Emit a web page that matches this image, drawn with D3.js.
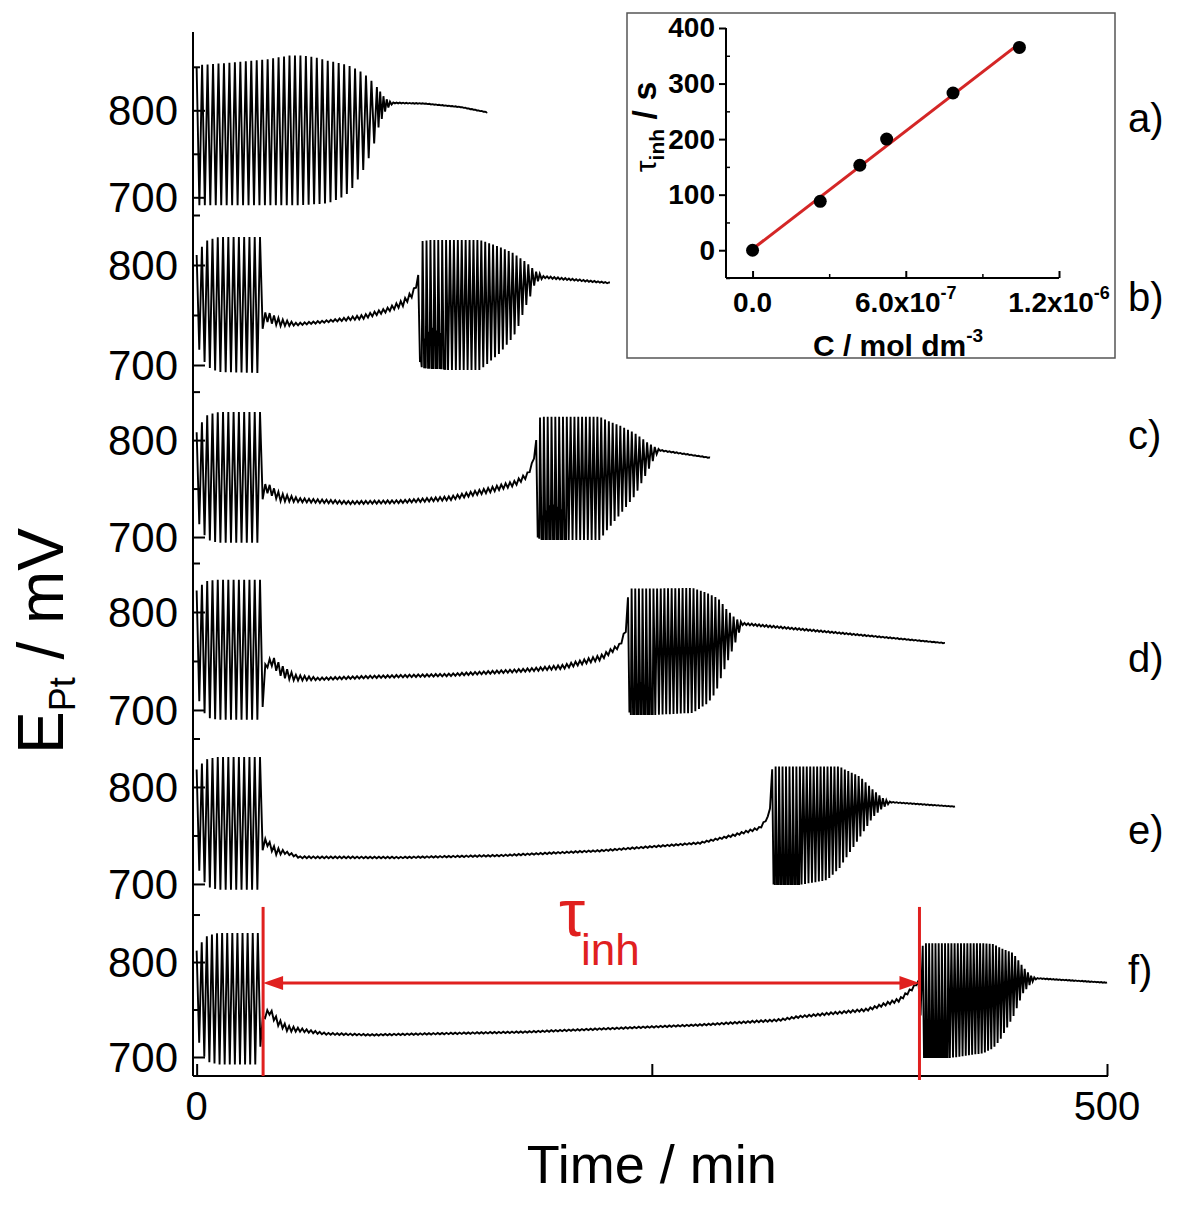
<!doctype html>
<html>
<head>
<meta charset="utf-8">
<title>E_Pt oscillations</title>
<script src="https://d3js.org/d3.v7.min.js"></script>
<style>
  body { margin: 0; background: #fff; }
  svg { display: block; font-family: "Liberation Sans", Arial, sans-serif; }
</style>
</head>
<body>
<svg id="chart" width="1186" height="1209"></svg>
<script>

    /* --- values --- */

    var panels = ["a)", "b)", "c)", "d)", "e)", "f)"];
    // potential window of every strip, mV
    var panelMin = [690, 685, 682.5, 681.6, 681.4, 680];
    var panelMax = [890, 859, 862, 859.2, 860.8, 863.2];
    var majorTicks = [700, 800];
    var minorTicks = [650, 750, 850];
    var timeTicks = [0, 250, 500];
    var timeLabels = [0, 500];

    // envelope rows: [time / min, upper mV, lower mV, inner spike mV]
    var envA = [
        [0, 849, 849, 849], [1.5, 852, 691, 691], [20, 855, 691, 691], [40, 859, 691, 691],
        [51, 863, 691, 691], [58, 863, 691, 691], [65, 861, 692, 692], [72, 857, 693, 693],
        [79, 854, 699, 699], [84, 851, 706, 706], [89, 846, 722, 722], [93, 840, 737, 737],
        [97, 832, 758, 758], [100, 824, 781, 781], [103, 815, 797, 797], [106, 810, 805, 805],
        [108, 809, 808, 808], [125, 808, 807.5, 807.5], [145, 804, 803.5, 803.5], [159.5, 798, 797.5, 797.5]
    ];
    var envB = [
        [0, 810, 810, 810], [1.5, 815, 712, 712], [6, 825, 698, 698], [12, 828, 693, 693],
        [35, 828, 692, 692], [36.5, 753, 745, 745], [40, 752, 742, 742], [46, 746, 739, 739],
        [55, 742, 739.5, 739.5], [73.3, 745, 743, 743], [91.4, 750, 746, 746], [104.6, 757, 753, 753],
        [113.4, 765, 759, 759], [118.9, 775, 769, 769], [121.6, 787, 783, 783], [122.7, 820, 700, 700],
        [124, 824, 697, 722], [129, 825, 696, 738], [134, 825, 696, 732], [137, 825, 695, 695],
        [155.7, 825, 695, 695], [166.6, 818, 712, 712], [173.8, 812, 728, 728], [176, 809, 735, 735],
        [179.3, 805, 752, 752], [181.5, 802, 762, 762], [183.1, 799, 768, 768], [185.9, 794, 782, 782],
        [190.3, 789, 787, 787], [227, 782.5, 781.5, 781.5]
    ];
    var envC = [
        [0, 808, 808, 808], [1.5, 815, 710, 710], [6, 826, 697, 697], [12, 829, 694, 694],
        [35, 829, 694, 694], [36.5, 755, 748, 748], [40, 754, 744, 744], [46, 745, 737, 737],
        [56.8, 740, 736, 736], [84.3, 737, 734, 734], [111.7, 738, 735, 735], [139.1, 742, 738, 738],
        [161, 751, 746, 746], [174.9, 758, 753, 753], [181.5, 766, 761, 761], [184.8, 779, 775, 775],
        [186.4, 796, 794, 794], [187, 820, 700, 700], [189, 824, 697, 720], [195, 824, 697, 735],
        [201, 824, 697, 728], [204, 824, 697, 697], [221.6, 824, 697, 697], [224.4, 821, 705, 705],
        [232.5, 815, 723, 723], [240.8, 807, 743, 743], [248, 797, 769, 769], [252.4, 792, 785, 785],
        [254.5, 790, 789, 789], [282, 782, 781.5, 781.5]
    ];
    var envD = [
        [0, 822, 822, 822], [1.5, 826, 705, 705], [6, 832, 692, 692], [12, 833, 690, 690],
        [36, 833, 690, 690], [37, 745, 742, 742], [41.4, 755, 745, 745], [47, 745, 733, 733],
        [54, 736, 730, 730], [66.7, 733, 730.5, 730.5], [95.8, 735, 732.5, 732.5], [138, 737, 734.5, 734.5],
        [179.8, 742, 739, 739], [201.2, 746, 742, 742], [222.1, 756, 751, 751], [232.5, 768, 764, 764],
        [235.8, 784, 780, 780], [236.9, 815, 700, 700], [238.5, 824, 695, 715], [243, 824, 695, 730],
        [249, 824, 695, 722], [252, 824, 695, 695], [272.6, 824.5, 697, 697], [280.8, 819, 707, 707],
        [285.2, 815, 718, 718], [287.4, 812, 730, 730], [291.3, 802, 748, 748], [293.5, 798, 758, 758],
        [295.7, 794, 768, 768], [297.9, 791, 779, 779], [300, 789, 787, 787], [411, 768.5, 768, 768]
    ];
    var envE = [
        [0, 818, 818, 818], [1.5, 822, 710, 710], [6, 829, 697, 697], [12, 831, 694, 694],
        [35, 831, 694, 694], [36.5, 747, 743, 743], [38.5, 746, 740, 740], [43, 738, 730, 730],
        [48.6, 734, 731, 731], [56.8, 728.5, 726.5, 726.5], [111.7, 728, 726.5, 726.5], [166.6, 730, 728.5, 728.5],
        [221.6, 735, 733.5, 733.5], [276.5, 743, 741.5, 741.5], [294.6, 751, 749, 749], [309.4, 759, 756.5, 756.5],
        [313.8, 770, 768, 768], [315.5, 784, 783, 783], [316, 818, 700, 700], [317.5, 821, 699, 718],
        [322, 821, 699, 732], [328, 821, 699, 725], [331, 821, 699, 699], [346.3, 821, 704, 704],
        [353.4, 821, 717, 717], [355, 819, 722, 722], [364.4, 810.6, 748.5, 748.5], [371.5, 797, 769, 769],
        [376.5, 789, 778, 778], [379.2, 786, 781.4, 781.4], [380.9, 784.8, 784, 784], [416.5, 780, 779.5, 779.5]
    ];
    var envF = [
        [0, 812, 812, 812], [1.5, 818, 708, 708], [6, 828, 695, 695], [12, 830.5, 692, 692],
        [34.3, 830.5, 692, 692], [36, 742, 738, 738], [39.8, 752, 745, 745], [44.7, 740, 733, 733],
        [50, 733, 727, 727], [57.9, 730, 726.5, 726.5], [70.5, 725.5, 723.5, 723.5], [95.8, 724, 722.5, 722.5],
        [179.8, 727, 725.5, 725.5], [276.5, 734.5, 733, 733], [320.4, 740, 738, 738], [331.4, 743.5, 741.5, 741.5],
        [368.2, 751, 748.5, 748.5], [386.1, 762, 758.5, 758.5], [393.3, 774, 771, 771], [397.1, 782, 780, 780],
        [398.2, 815, 700, 700], [399.5, 819.7, 699, 718], [404, 819.7, 699, 734], [411, 819.7, 699, 726],
        [414, 819.7, 699, 699], [432, 819.7, 704, 704], [437.4, 819, 709, 709], [441.3, 815, 718, 718],
        [448.4, 809.5, 742, 742], [453.8, 795, 767, 767], [458.8, 784.5, 779, 779], [461.5, 783.2, 782.5, 782.5],
        [500, 778.5, 778, 778]
    ];
    var envelopes = [envA, envB, envC, envD, envE, envF];

    // oscillation period in min, valid from the given time on
    var periodA = [[0, 3.0], [98, 1.8]];
    var periodB = [[0, 2.9], [36, 2.4], [122, 2.15], [186, 2.0]];
    var periodC = [[0, 2.9], [36, 2.4], [186, 2.1], [252, 2.0]];
    var periodD = [[0, 2.9], [36, 2.4], [236, 2.0]];
    var periodE = [[0, 2.9], [36, 2.4], [315, 1.9]];
    var periodF = [[0, 2.8], [36, 2.4], [398, 1.75]];
    var periods = [periodA, periodB, periodC, periodD, periodE, periodF];

    // induction period marked on record f), min
    var tauStart = 36.5;
    var tauEnd = 397;

    // inset: induction time vs. concentration
    var concentration = [0, 2.65e-7, 4.2e-7, 5.25e-7, 7.85e-7, 1.045e-6];
    var tauInh = [0, 88, 153, 200, 283, 365];
    var insetYTicks = [0, 100, 200, 300, 400];
    var insetYMinor = [-50, 50, 150, 250, 350];
    var insetXTicks = [0, 6e-7, 1.2e-6];
    var insetXMinor = [3e-7, 9e-7];

    /* --- layout --- */

    var svg = d3.select('#chart');
    var red = '#e0201f';
    var axisTop = 32, axisBottom = 1076, axisLeft = 193;
    var band = (axisBottom - axisTop) / panels.length;
    var tagY = [118, 297, 435, 658, 830, 970];

    var x = d3.scaleLinear().domain([-2, 500]).range([axisLeft, 1107]);

    var yScales = panels.map(function(p, i){
        return d3.scaleLinear()
            .domain([panelMin[i], panelMax[i]])
            .range([axisTop + band * (i + 1), axisTop + band * i]);
    });

    function periodAt(list, t){
        var p = list[0][1];
        list.forEach(function(r){ if(t >= r[0]) p = r[1]; });
        return p;
    }

    // zigzag between upper and lower envelope, one cycle per period
    function trace(env, plist){
        var times = env.map(function(r){ return r[0]; });
        var col = function(k){
            return d3.scaleLinear().domain(times).range(env.map(function(r){ return r[k]; })).clamp(true);
        };
        var hi = col(1), lo = col(2), mid = col(3);
        var t0 = times[0], t1 = times[times.length - 1];
        var pts = [[t0, hi(t0)]];
        var t = t0;
        while(t < t1){
            var p = periodAt(plist, t);
            var tm = t + p / 2;
            if(mid(tm) - lo(tm) > 3){
                pts.push([t + 0.4 * p, lo(t + 0.4 * p)]);
                pts.push([t + 0.6 * p, mid(t + 0.6 * p)]);
                pts.push([t + 0.8 * p, lo(t + 0.8 * p)]);
            } else if(tm < t1){
                pts.push([tm, lo(tm)]);
            }
            t = Math.min(t + p, t1);
            pts.push([t, hi(t)]);
        }
        return pts;
    }

    // traces
    envelopes.forEach(function(env, i){
        var y = yScales[i];
        var line = d3.line().x(function(d){ return x(d[0]); }).y(function(d){ return y(d[1]); });
        svg.append('path')
            .attr('d', line(trace(env, periods[i])))
            .attr('fill', 'none')
            .attr('stroke', '#000')
            .attr('stroke-width', 1.9)
            .attr('stroke-linejoin', 'miter');
    });

    // left axis with its six strips
    svg.append('line')
        .attr('x1', axisLeft).attr('x2', axisLeft)
        .attr('y1', axisTop).attr('y2', axisBottom)
        .attr('stroke', '#000').attr('stroke-width', 2);

    yScales.forEach(function(y, i){
        var inside = function(v){ return v >= panelMin[i] && v <= panelMax[i]; };
        var g = svg.append('g').attr('transform', 'translate(' + axisLeft + ',0)');
        g.call(d3.axisRight(y).tickValues(majorTicks.filter(inside)).tickSize(12).tickFormat(''));
        g.select('.domain').remove();
        g.selectAll('.tick line').attr('stroke-width', 2);
        var g2 = svg.append('g').attr('transform', 'translate(' + axisLeft + ',0)');
        g2.call(d3.axisRight(y).tickValues(minorTicks.filter(inside)).tickSize(7).tickFormat(''));
        g2.select('.domain').remove();
        g2.selectAll('.tick line').attr('stroke-width', 2);

        majorTicks.filter(inside).forEach(function(v){
            svg.append('text')
                .attr('x', 178).attr('y', y(v)).attr('dy', '0.36em')
                .attr('text-anchor', 'end')
                .attr('font-size', 42)
                .text(v);
        });

        svg.append('text')
            .attr('x', 1128).attr('y', tagY[i]).attr('dy', '0.36em')
            .attr('font-size', 40)
            .text(panels[i]);
    });

    // bottom axis
    svg.append('line')
        .attr('x1', axisLeft).attr('x2', x(500) + 1)
        .attr('y1', axisBottom).attr('y2', axisBottom)
        .attr('stroke', '#000').attr('stroke-width', 2);
    var gx = svg.append('g').attr('transform', 'translate(0,' + axisBottom + ')');
    gx.call(d3.axisTop(x).tickValues(timeTicks).tickSize(12).tickFormat(''));
    gx.select('.domain').remove();
    gx.selectAll('.tick line').attr('stroke-width', 2);

    timeLabels.forEach(function(v){
        svg.append('text')
            .attr('x', x(v)).attr('y', 1120)
            .attr('text-anchor', 'middle')
            .attr('font-size', 40)
            .text(v);
    });

    svg.append('text')
        .attr('x', x(250)).attr('y', 1183)
        .attr('text-anchor', 'middle')
        .attr('font-size', 54)
        .text('Time / min');

    var yt = svg.append('text')
        .attr('transform', 'translate(63,641) rotate(-90)')
        .attr('text-anchor', 'middle')
        .attr('font-size', 64);
    yt.append('tspan').text('E');
    yt.append('tspan').attr('font-size', 36).attr('dy', 12).text('Pt');
    yt.append('tspan').attr('dy', -12).text(' / mV');

    // induction period annotation on f)
    var yF = yScales[5];
    var xa = x(tauStart), xb = x(tauEnd), ya = yF(778);
    [[xa, 1076], [xb, 1080]].forEach(function(v){
        svg.append('line')
            .attr('x1', v[0]).attr('x2', v[0])
            .attr('y1', yF(858)).attr('y2', v[1])
            .attr('stroke', red).attr('stroke-width', 3);
    });
    svg.append('line')
        .attr('x1', xa + 14).attr('x2', xb - 14)
        .attr('y1', ya).attr('y2', ya)
        .attr('stroke', red).attr('stroke-width', 3);
    svg.append('path')
        .attr('d', 'M' + xa + ',' + ya + 'l20,-7v14z' + 'M' + xb + ',' + ya + 'l-20,-7v14z')
        .attr('fill', red);
    var tt = svg.append('text')
        .attr('x', (xa + xb) / 2 + 8).attr('y', 936)
        .attr('text-anchor', 'middle')
        .attr('fill', red);
    tt.append('tspan').attr('font-size', 66).text('τ');
    tt.append('tspan').attr('font-size', 44).attr('dy', 29).attr('dx', -4).text('inh');

    /* --- inset --- */

    svg.append('rect')
        .attr('x', 627).attr('y', 13).attr('width', 488).attr('height', 345)
        .attr('fill', '#fff').attr('stroke', '#555').attr('stroke-width', 1.5);

    var ix = d3.scaleLinear().domain([-1.04e-7, 1.2e-6]).range([726, 1059]);
    var iy = d3.scaleLinear().domain([-50, 400]).range([278, 28]);

    var gy = svg.append('g').attr('transform', 'translate(726,0)');
    gy.call(d3.axisLeft(iy).tickValues(insetYTicks).tickSize(7).tickPadding(4));
    gy.select('.domain').attr('d', 'M0,' + iy(-50) + 'V' + iy(400)).attr('stroke-width', 2);
    gy.selectAll('.tick line').attr('stroke-width', 2);
    gy.selectAll('.tick text')
        .attr('font-size', 28).attr('font-weight', 'bold')
        .attr('font-family', '"Liberation Sans", Arial, sans-serif').attr('fill', '#000');
    var gym = svg.append('g').attr('transform', 'translate(726,0)');
    gym.call(d3.axisRight(iy).tickValues(insetYMinor).tickSize(4).tickFormat(''));
    gym.select('.domain').remove();
    gym.selectAll('.tick line').attr('stroke-width', 1.5);

    var gxi = svg.append('g').attr('transform', 'translate(0,' + iy(-50) + ')');
    gxi.call(d3.axisTop(ix).tickValues(insetXTicks).tickSize(7).tickFormat(''));
    gxi.select('.domain').attr('d', 'M' + ix.range()[0] + ',0H' + ix.range()[1]).attr('stroke-width', 2);
    gxi.selectAll('.tick line').attr('stroke-width', 2);
    var gxm = svg.append('g').attr('transform', 'translate(0,' + iy(-50) + ')');
    gxm.call(d3.axisTop(ix).tickValues(insetXMinor).tickSize(4).tickFormat(''));
    gxm.select('.domain').remove();
    gxm.selectAll('.tick line').attr('stroke-width', 1.5);

    var xLab = [['0.0', null], ['6.0x10', '-7'], ['1.2x10', '-6']];
    insetXTicks.forEach(function(v, i){
        var t = svg.append('text')
            .attr('x', ix(v)).attr('y', 312)
            .attr('text-anchor', 'middle')
            .attr('font-size', 28).attr('font-weight', 'bold');
        t.append('tspan').text(xLab[i][0]);
        if(xLab[i][1]) t.append('tspan').attr('font-size', 18).attr('dy', -13).text(xLab[i][1]);
    });

    var xt = svg.append('text')
        .attr('x', 898).attr('y', 356)
        .attr('text-anchor', 'middle')
        .attr('font-size', 30).attr('font-weight', 'bold');
    xt.append('tspan').text('C / mol dm');
    xt.append('tspan').attr('font-size', 19).attr('dy', -14).text('-3');

    var ytI = svg.append('text')
        .attr('transform', 'translate(656,127) rotate(-90)')
        .attr('text-anchor', 'middle');
    ytI.append('tspan').attr('font-size', 30).text('τ');
    ytI.append('tspan').attr('font-size', 21).attr('font-weight', 'bold').attr('dy', 8).text('inh');
    ytI.append('tspan').attr('font-size', 34).attr('font-weight', 'bold').attr('dy', -8).text(' / s');

    // least squares line through the points
    var mx = d3.mean(concentration), my = d3.mean(tauInh);
    var sxy = d3.sum(concentration, function(c, i){ return (c - mx) * (tauInh[i] - my); });
    var sxx = d3.sum(concentration, function(c){ return (c - mx) * (c - mx); });
    var slope = sxy / sxx, icpt = my - slope * mx;
    var xEnds = d3.extent(concentration);
    svg.append('line')
        .attr('x1', ix(xEnds[0])).attr('y1', iy(icpt + slope * xEnds[0]))
        .attr('x2', ix(xEnds[1])).attr('y2', iy(icpt + slope * xEnds[1]))
        .attr('stroke', '#d42626').attr('stroke-width', 3);

    svg.selectAll('circle.pt')
        .data(concentration)
        .enter()
        .append('circle')
        .attr('class', 'pt')
        .attr('cx', function(d){ return ix(d); })
        .attr('cy', function(d, i){ return iy(tauInh[i]); })
        .attr('r', 6.5)
        .attr('fill', '#000');

</script>
</body>
</html>
